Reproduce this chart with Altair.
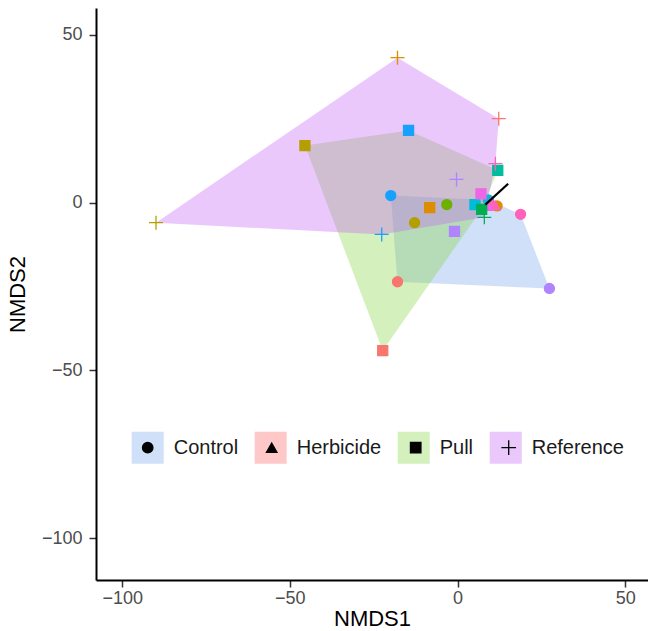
import altair as alt
import pandas as pd

# ---------------- data ----------------
treatments = ["Control", "Herbicide", "Pull", "Reference"]
hull_colors = ["#79A6EB", "#FF6262", "#84D440", "#C362F6"]
shape_range = ["circle", "triangle-up", "square", "M-1.4,0L1.4,0M0,-1.4L0,1.4"]

site_names = ["S01", "S02", "S03", "S04", "S05", "S06", "S07", "S08", "S09", "S10", "S11"]
site_colors = ["#F8766D", "#DE8C00", "#B3A000", "#6CB000", "#00B050", "#00BC9C",
               "#00BCD8", "#18A0FF", "#B084FF", "#EE66E6", "#FF62B8"]

control_site = ["S08", "S03", "S04", "S01", "S09", "S11", "S02", "S07"]
control_x = [-19.9, -12.8, -3.2, -17.9, 27.4, 18.8, 11.8, 9.2]
control_y = [2.1, -6.0, -0.6, -23.6, -25.6, -3.5, -1.0, 0.8]

herb_site = ["S11", "S11", "S10"]
herb_x = [10.0, 11.2, 9.0]
herb_y = [0.2, -0.8, -1.0]

pull_site = ["S03", "S08", "S06", "S02", "S09", "S01", "S07", "S10", "S05"]
pull_x = [-45.5, -14.6, 12.0, -8.3, -0.9, -22.3, 5.2, 7.0, 7.2]
pull_y = [17.0, 21.5, 9.6, -1.5, -8.6, -44.1, -0.6, 2.6, -2.0]

ref_site = ["S02", "S01", "S03", "S08", "S09", "S11", "S05"]
ref_x = [-17.9, 12.3, -89.9, -22.6, -0.3, 11.3, 8.0]
ref_y = [43.2, 25.0, -6.0, -9.5, 6.9, 11.6, -4.4]

arrow_x = [8.3, 15.1]
arrow_y = [-0.6, 5.6]

groups = {
    "Control": (control_site, control_x, control_y),
    "Herbicide": (herb_site, herb_x, herb_y),
    "Pull": (pull_site, pull_x, pull_y),
    "Reference": (ref_site, ref_x, ref_y),
}

rows = []
for t, (s, xs, ys) in groups.items():
    for si, xi, yi in zip(s, xs, ys):
        rows.append({"treatment": t, "site": si, "NMDS1": xi, "NMDS2": yi})
points = pd.DataFrame(rows)


def convex_hull(pts):
    pts = sorted(set(pts))
    if len(pts) <= 2:
        return pts

    def cross(o, a, b):
        return (a[0] - o[0]) * (b[1] - o[1]) - (a[1] - o[1]) * (b[0] - o[0])

    lower = []
    for p in pts:
        while len(lower) >= 2 and cross(lower[-2], lower[-1], p) <= 0:
            lower.pop()
        lower.append(p)
    upper = []
    for p in reversed(pts):
        while len(upper) >= 2 and cross(upper[-2], upper[-1], p) <= 0:
            upper.pop()
        upper.append(p)
    return lower[:-1] + upper[:-1]


hrows = []
for t, (s, xs, ys) in groups.items():
    for i, (hx, hy) in enumerate(convex_hull(list(zip(xs, ys)))):
        hrows.append({"group": t, "NMDS1": hx, "NMDS2": hy, "idx": i})
hulls = pd.DataFrame(hrows)

arrow = pd.DataFrame({"NMDS1": arrow_x, "NMDS2": arrow_y, "i": [0, 1]})

# ---------------- chart ----------------
FONT = "Liberation Sans"
x_scale = alt.Scale(domain=[-107.8, 56.8], nice=False, zero=False)
y_scale = alt.Scale(domain=[-112.5, 58.0], nice=False, zero=False)

x_axis = alt.Axis(values=[-100, -50, 0, 50], grid=False, domainColor="black", domainWidth=2,
                  tickColor="#333333", tickWidth=1.5, tickSize=7, labelFontSize=18,
                  labelColor="#4D4D4D", labelFont=FONT, titleFont=FONT, titleFontSize=22,
                  titleFontWeight="normal", titleColor="black", labelPadding=2, titlePadding=1)
y_axis = alt.Axis(values=[-100, -50, 0, 50], grid=False, domainColor="black", domainWidth=2,
                  tickColor="#333333", tickWidth=1.5, tickSize=7, labelFontSize=18,
                  labelColor="#4D4D4D", labelFont=FONT, titleFont=FONT, titleFontSize=22,
                  titleFontWeight="normal", titleColor="black", labelPadding=7, titlePadding=12)

hull_layer = alt.Chart(hulls).mark_line(
    interpolate="linear-closed", strokeOpacity=0, fillOpacity=0.35
).encode(
    x=alt.X("NMDS1:Q", scale=x_scale, axis=x_axis, title="NMDS1"),
    y=alt.Y("NMDS2:Q", scale=y_scale, axis=y_axis, title="NMDS2"),
    fill=alt.Fill("group:N", scale=alt.Scale(range=hull_colors),
                  legend=alt.Legend(title=None, orient="none", direction="horizontal",
                                    legendX=35.7, legendY=423.7, padding=0,
                                    symbolType="square", symbolSize=1024, symbolStrokeWidth=0,
                                    symbolOpacity=0.35, labelOffset=10, columnPadding=16,
                                    labelFontSize=20, labelFont=FONT, labelColor="#1A1A1A")),
    order=alt.Order("idx:Q"),
)

pt_layer = alt.Chart(points).mark_point(filled=True, size=100, strokeWidth=1.3, opacity=1).encode(
    x="NMDS1:Q",
    y="NMDS2:Q",
    color=alt.Color("site:N", scale=alt.Scale(domain=site_names, range=site_colors), legend=None),
    stroke=alt.Stroke("site:N", scale=alt.Scale(domain=site_names, range=site_colors), legend=None),
    shape=alt.Shape("treatment:N", scale=alt.Scale(domain=treatments, range=shape_range),
                    legend=alt.Legend(title=None, orient="none", direction="horizontal",
                                      legendX=35.7, legendY=429.7, padding=0,
                                      symbolSize=110, symbolStrokeWidth=1.3,
                                      symbolFillColor="black", symbolStrokeColor="black",
                                      symbolOffset=6, labelOffset=22, columnPadding=11,
                                      labelFontSize=20, labelFont=FONT, labelOpacity=0)),
)

arrow_layer = alt.Chart(arrow).mark_line(color="black", strokeWidth=2.2).encode(
    x="NMDS1:Q", y="NMDS2:Q", order="i:Q"
)

chart = alt.layer(hull_layer, pt_layer, arrow_layer).resolve_scale(
    color="independent"
).properties(
    width=552, height=572,
    autosize=alt.AutoSizeParams(type="none"),
    padding={"left": 96, "top": 8, "right": 0, "bottom": 51},
    background="white",
).configure_view(strokeWidth=0)

chart.save("out.html", embed_options={"renderer": "svg", "actions": False})
